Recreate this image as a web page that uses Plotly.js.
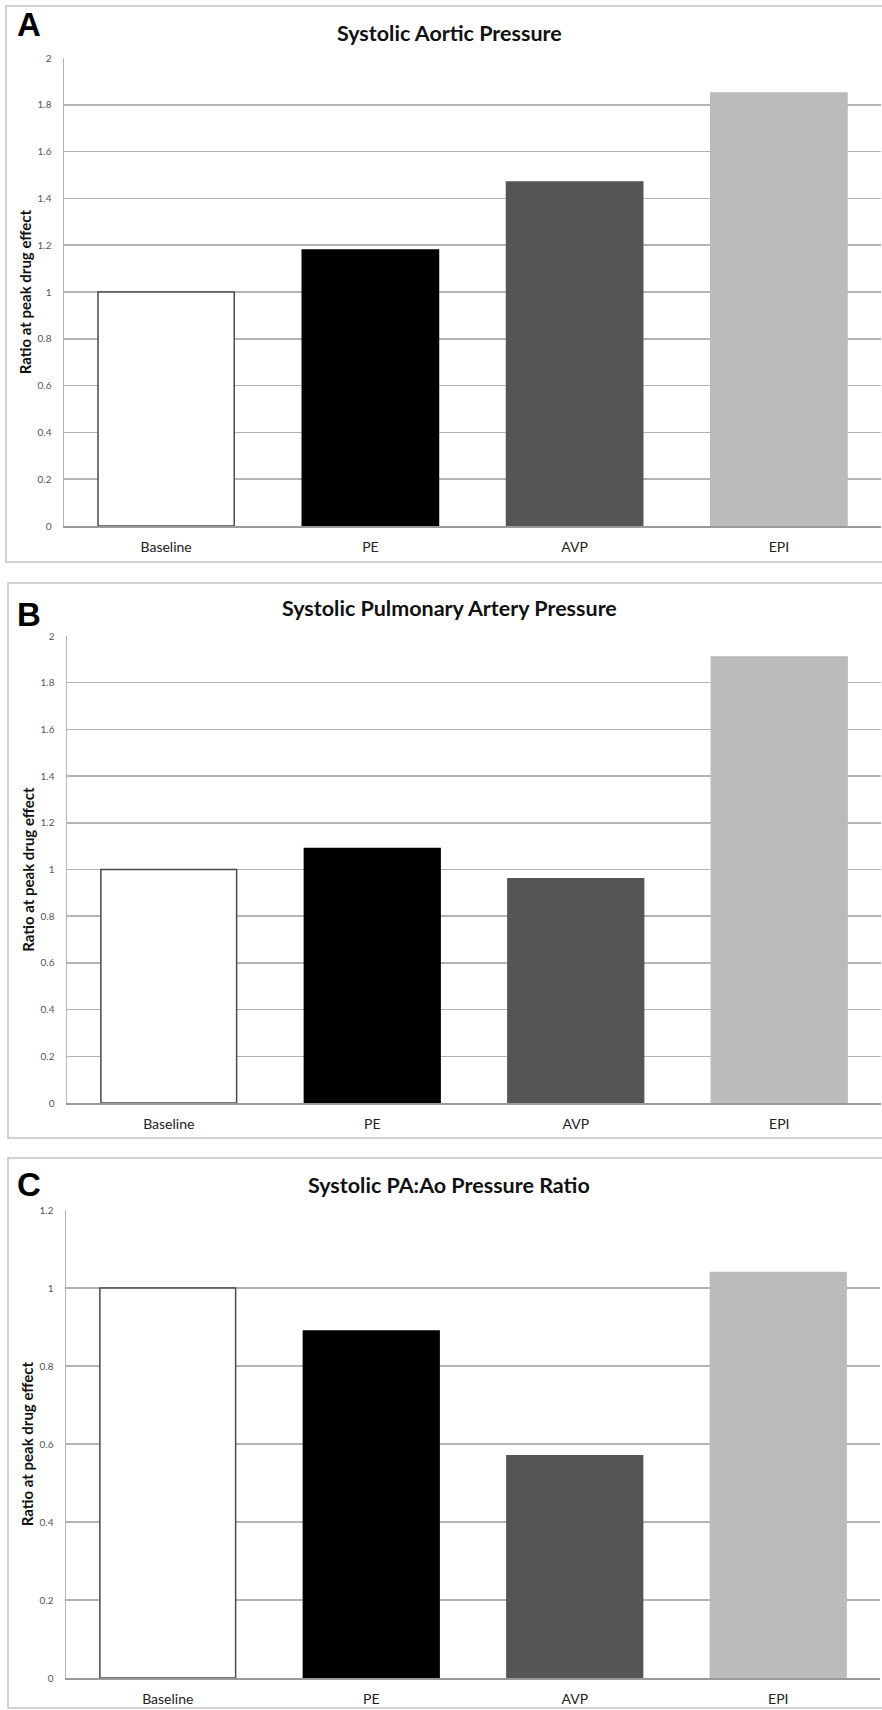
<!DOCTYPE html>
<html>
<head>
<meta charset="utf-8">
<script src="https://cdn.plot.ly/plotly-3.0.1.min.js"></script>
<style>html,body{margin:0;padding:0;background:#fff;}#chart{width:882px;height:1710px;}</style>
</head>
<body>
<div id="chart"></div>
<script>
// ---- data ----
const categories = ["Baseline", "PE", "AVP", "EPI"];
const aorticValues = [1.00, 1.18, 1.47, 1.85];
const pulmonaryValues = [1.00, 1.09, 0.96, 1.91];
const ratioValues = [1.00, 0.89, 0.57, 1.04];
const panelTitles = ["Systolic Aortic Pressure", "Systolic Pulmonary Artery Pressure", "Systolic PA:Ao Pressure Ratio"];
const panelLetters = ["A", "B", "C"];
const yTitle = "Ratio at peak drug effect";

// ---- styles ----
const barFill = ["#ffffff", "#000000", "#555555", "#bbbbbb"];
const barLine = ["#4a4a4a", "#000000", "#555555", "#bbbbbb"];
const gridC = "#b4b4b4";
const W = 882, H = 1710;
const px = v => v / W;
const py = v => 1 - v / H;
const FONT = "Lato, 'Open Sans', sans-serif";

function bar(vals, xa, ya) {
  return {
    type: "bar", x: categories, y: vals, xaxis: xa, yaxis: ya,
    marker: { color: barFill, line: { color: barLine, width: 1.5 } },
    hoverinfo: "x+y", showlegend: false
  };
}

const data = [
  bar(aorticValues, "x", "y"),
  bar(pulmonaryValues, "x2", "y2"),
  bar(ratioValues, "x3", "y3")
];

function xAxis(l, r, anchor) {
  return {
    domain: [px(l), px(r)], anchor: anchor, showgrid: false,
    showline: true, linecolor: "#9a9a9a", linewidth: 1.5,
    ticks: "", ticklabelstandoff: 8,
    tickfont: { family: FONT, size: 14, color: "#222" },
    fixedrange: true
  };
}
function yAxis(top, bottom, max, dtick, anchor) {
  return {
    domain: [py(bottom), py(top)], anchor: anchor, range: [0, max], dtick: dtick,
    showgrid: true, gridcolor: gridC, gridwidth: 1.5,
    showline: true, linecolor: gridC, linewidth: 1.5, zeroline: false,
    ticks: "", ticklabelstandoff: 9,
    tickfont: { family: FONT, size: 10, color: "#555" },
    title: { text: yTitle, standoff: 2, font: { family: FONT, size: 15, color: "#111", weight: "bold" } },
    fixedrange: true
  };
}

const frameC = "#c4c4c4";
const shapes = [
  { type: "rect", xref: "paper", yref: "paper", x0: px(6), x1: px(886), y0: py(562), y1: py(6), line: { color: frameC, width: 1.5 } },
  { type: "rect", xref: "paper", yref: "paper", x0: px(8), x1: px(886), y0: py(1138), y1: py(583), line: { color: frameC, width: 1.5 } },
  { type: "rect", xref: "paper", yref: "paper", x0: px(8), x1: px(886), y0: py(1708), y1: py(1158), line: { color: frameC, width: 1.5 } }
];

const titleY = [33, 608, 1185];
const letterY = [25, 614, 1184];
const annotations = [];
for (let i = 0; i < 3; i++) {
  annotations.push({
    xref: "paper", yref: "paper", x: px(449), y: py(titleY[i]), xanchor: "center", yanchor: "middle",
    text: "<b>" + panelTitles[i] + "</b>", showarrow: false,
    font: { family: FONT, size: 21.5, color: "#111" }
  });
  annotations.push({
    xref: "paper", yref: "paper", x: px(29), y: py(letterY[i]), xanchor: "center", yanchor: "middle",
    text: "<b>" + panelLetters[i] + "</b>", showarrow: false,
    font: { family: "'Liberation Sans', Arial, sans-serif", size: 33, color: "#000" }
  });
}

const layout = {
  width: W, height: H, margin: { l: 0, r: 0, t: 0, b: 0 },
  paper_bgcolor: "#fff", plot_bgcolor: "#fff",
  bargap: 0.333, showlegend: false,
  xaxis: xAxis(64, 881, "y"),
  yaxis: yAxis(58, 526, 2, 0.2, "x"),
  xaxis2: xAxis(67, 881, "y2"),
  yaxis2: yAxis(636, 1103, 2, 0.2, "x2"),
  xaxis3: xAxis(66, 880, "y3"),
  yaxis3: yAxis(1210, 1678, 1.2, 0.2, "x3"),
  shapes: shapes, annotations: annotations
};

Plotly.newPlot("chart", data, layout, { displayModeBar: false, staticPlot: true });
</script>
</body>
</html>
